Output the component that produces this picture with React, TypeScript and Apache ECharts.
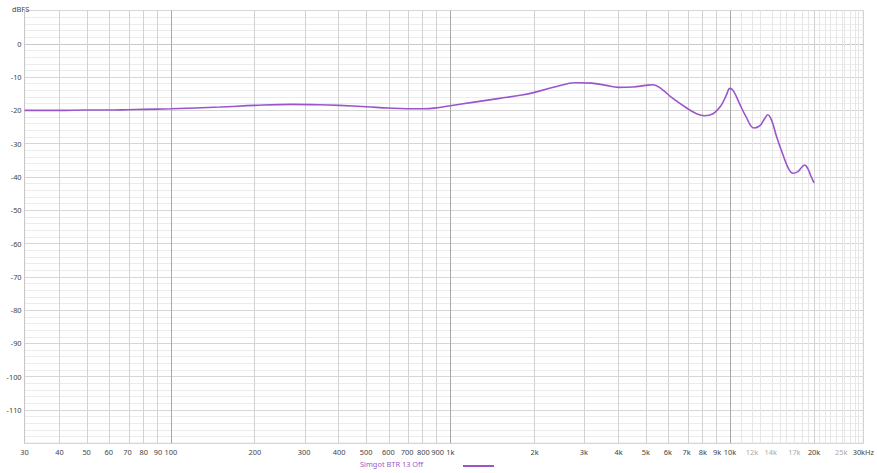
import React, { useEffect, useRef } from "react";
import * as echarts from "echarts";

const seriesName = "Simgot BTR 13 Off";
const freqs = [30, 40, 50, 60, 70, 80, 100, 150, 200, 270, 340, 400, 500, 600, 700, 800, 900, 1000, 1200, 1500, 1800, 2000, 2400, 2800, 3200, 3600, 4000, 4500, 5000, 5300, 5700, 6200, 7000, 7600, 8100, 8700, 9300, 9700, 10000, 10300, 10800, 11400, 12200, 12800, 13300, 13650, 14100, 14700, 15500, 16200, 16800, 17500, 18100, 18500, 19000, 19500, 20000];
const levels = [-20.0, -20.0, -19.9, -19.9, -19.8, -19.7, -19.5, -19.0, -18.5, -18.2, -18.3, -18.5, -18.9, -19.3, -19.5, -19.5, -19.2, -18.6, -17.6, -16.4, -15.4, -14.6, -12.8, -11.7, -11.8, -12.5, -13.1, -13.0, -12.5, -12.3, -13.6, -16.2, -19.3, -21.0, -21.6, -21.0, -18.5, -15.5, -13.4, -14.2, -17.8, -21.8, -25.3, -24.6, -22.5, -21.3, -23.0, -28.0, -33.5, -37.5, -38.9, -38.4, -37.0, -36.4, -37.5, -39.8, -41.8];

const tickFreqs = [30, 40, 50, 60, 70, 80, 90, 100, 200, 300, 400, 500, 600, 700, 800, 900, 1000, 2000, 3000, 4000, 5000, 6000, 7000, 8000, 9000, 10000, 12000, 14000, 17000, 20000, 25000, 30000];
const tickLabels = ["30", "40", "50", "60", "70", "80", "90", "100", "200", "300", "400", "500", "600", "700", "800", "900", "1k", "2k", "3k", "4k", "5k", "6k", "7k", "8k", "9k", "10k", "12k", "14k", "17k", "20k", "25k", "30kHz"];
const faintLabels = ["12k", "14k", "17k", "25k"];
const gridFreqs = [40, 50, 60, 70, 80, 90, 200, 300, 400, 500, 600, 700, 800, 900, 2000, 3000, 4000, 5000, 6000, 7000, 8000, 9000, 20000];
const decadeFreqs = [100, 1000, 10000];
const fineFreqs = [11000, 12000, 13000, 14000, 15000, 16000, 17000, 18000, 19000, 21000, 22000, 23000, 24000, 25000, 26000, 27000, 28000, 29000];

export default function App() {
  const ref = useRef<HTMLDivElement>(null);
  useEffect(() => {
    document.body.style.margin = "0";
    const chart = echarts.init(ref.current!, undefined, { renderer: "svg" });
    const lg = (f: number) => Math.log10(f);
    const labelMap: Record<string, string> = {};
    tickFreqs.forEach((f, i) => (labelMap[lg(f).toFixed(5)] = tickLabels[i]));
    const markData: any[] = [];
    fineFreqs.forEach((f) => markData.push({ xAxis: lg(f), lineStyle: { color: "#e6e6e6", width: 1, type: "solid" } }));
    gridFreqs.forEach((f) => markData.push({ xAxis: lg(f), lineStyle: { color: "#d2d2d2", width: 1, type: "solid" } }));
    decadeFreqs.forEach((f) => markData.push({ xAxis: lg(f), lineStyle: { color: "#a8a8a8", width: 1, type: "solid" } }));
    const fs = 7.4;
    const color = "#9b55cc";
    chart.setOption({
      animation: false,
      textStyle: { fontFamily: "Noto Sans" },
      grid: { left: 24.6, right: 12, top: 10.5, bottom: 29.7, show: true, borderColor: "#c8c8c8", borderWidth: 1 },
      title: { text: "dBFS", left: 7, top: 0, textStyle: { fontSize: fs, color: "#444", fontWeight: "normal" } },
      legend: { show: false },
      graphic: [
        { type: "text", left: 360, top: 460, style: { text: seriesName, fontSize: fs, fill: "#9b59c6", fontFamily: "Noto Sans" } },
        { type: "line", shape: { x1: 463, y1: 466, x2: 494, y2: 466 }, style: { stroke: color, lineWidth: 2 } },
      ],
      xAxis: {
        type: "value",
        min: lg(30),
        max: lg(30000),
        axisLine: { show: true, lineStyle: { color: "#c8c8c8" } },
        axisTick: { show: false },
        splitLine: { show: false },
        axisLabel: {
          customValues: tickFreqs.map(lg),
          margin: 5,
          fontSize: fs,
          color: "#444",
          formatter: (v: number) => {
            const s = labelMap[v.toFixed(5)] ?? "";
            return faintLabels.includes(s) ? "{f|" + s + "}" : s;
          },
          rich: { f: { color: "#aaa", fontSize: fs } },
        },
      },
      yAxis: {
        type: "value",
        min: -120,
        max: 10,
        interval: 10,
        axisLine: { show: true, lineStyle: { color: "#c8c8c8" } },
        axisTick: { show: false },
        axisLabel: {
          margin: 3,
          fontSize: fs,
          color: "#444",
          formatter: (v: number) => (v === 10 || v === -120 ? "" : String(v)),
        },
        splitLine: { show: true, lineStyle: { color: "#d6d6d6" } },
        minorTick: { show: false, splitNumber: 5 },
        minorSplitLine: { show: true, lineStyle: { color: "#ececec" } },
      },
      series: [
        {
          name: seriesName,
          type: "line",
          data: freqs.map((f, i) => [lg(f), levels[i]]),
          smooth: 0.4,
          showSymbol: false,
          symbol: "none",
          lineStyle: { color, width: 1.6 },
          itemStyle: { color },
          z: 5,
          markLine: {
            silent: true,
            symbol: "none",
            label: { show: false },
            animation: false,
            data: markData,
            z: 1,
          },
        },
      ],
    });
    return () => chart.dispose();
  }, []);
  return <div ref={ref} style={{ width: 877, height: 473 }} />;
}
